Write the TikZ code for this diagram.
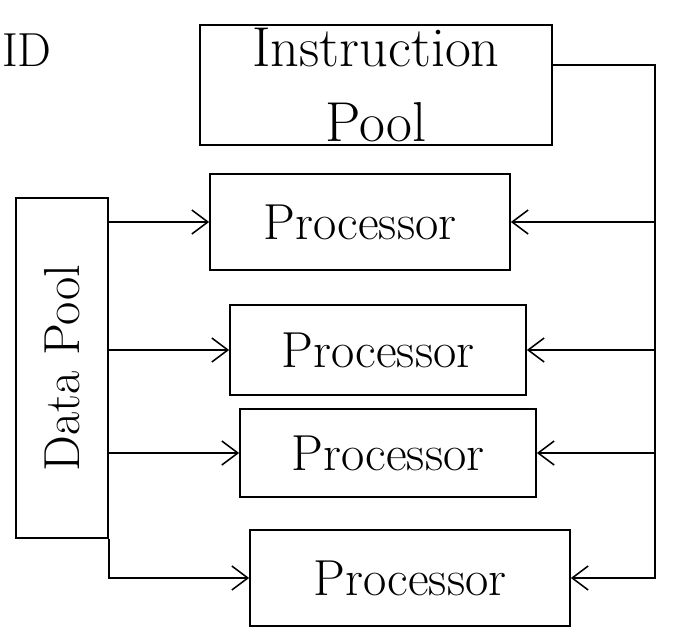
\documentclass[tikz,border=0pt]{standalone}
\usepackage{fontspec}
\usepackage{xcolor}
\usepackage{tikz}
\usetikzlibrary{arrows.meta}

\begin{document}
\begin{tikzpicture}[x=0.025cm, y=-0.025cm,
  box/.style={draw, line width=1.2pt, inner sep=0pt, font=\fontsize{36}{40}\selectfont},
  arr/.style={line width=1.1pt, -{Straight Barb[length=4mm, width=6mm]}}]
\useasboundingbox (0,0) rectangle (680,635);
% label in the corner
\node[anchor=west, inner sep=0pt, font=\fontsize{34}{40}\selectfont] (mode) at (2,50) {ID};
% pools
\node[box, minimum width=8.8cm, minimum height=3cm, align=center,
      font=\fontsize{40}{54}\selectfont] (ip) at (376,85) {Instruction\\Pool};
\node[box, minimum width=2.3cm, minimum height=8.5cm] (dp) at (62,368)
      {\rotatebox{90}{Data Pool}};
% processors
\node[box, minimum width=7.5cm, minimum height=2.4cm] (p1) at (360,222) {Processor};
\node[box, minimum width=7.4cm, minimum height=2.25cm] (p2) at (378,350) {Processor};
\node[box, minimum width=7.4cm, minimum height=2.2cm] (p3) at (388,453) {Processor};
\node[box, minimum width=8cm, minimum height=2.4cm] (p4) at (410,578) {Processor};
% instruction bus on the right
\coordinate (bus) at (655,62);
\draw[arr] ([yshift=0.5cm]ip.east) -- ([yshift=0.5cm]ip.east -| bus) -- (bus |- p4.east) -- (p4.east);
\draw[arr] (bus |- p1.east) -- (p1.east);
\draw[arr] (bus |- p2.east) -- (p2.east);
\draw[arr] (bus |- p3.east) -- (p3.east);
% data lines on the left
\draw[arr] (dp.east |- p1.west) -- (p1.west);
\draw[arr] (dp.east |- p2.west) -- (p2.west);
\draw[arr] (dp.east |- p3.west) -- (p3.west);
\draw[arr] (dp.south east) |- (p4.west);
\end{tikzpicture}
\end{document}
